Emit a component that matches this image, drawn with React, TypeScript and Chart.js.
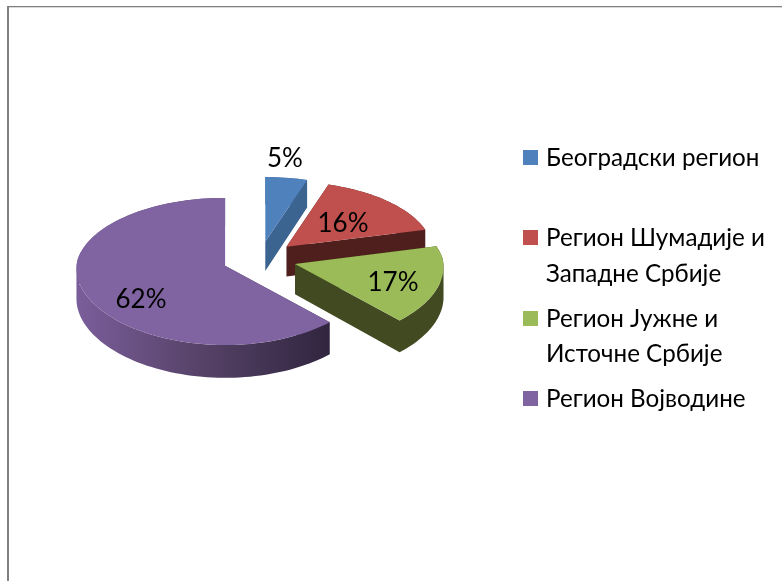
import React, { useEffect, useRef } from "react";
import { Chart, registerables } from "chart.js";

Chart.register(...registerables);

const categories = [
  "Београдски регион",
  "Регион Шумадије и Западне Србије",
  "Регион Јужне и Источне Србије",
  "Регион Војводине",
];
const values = [5, 16, 17, 62];
const legendLines = [
  ["Београдски регион", ""],
  ["Регион Шумадије и", "Западне Србије"],
  ["Регион Јужне и", "Источне Србије"],
  ["Регион Војводине"],
];
const topColors = ["#4F81BD", "#C0504D", "#9BBB59", "#8064A2"];
const wallColors = ["#3C6491", "#4E1F1D", "#414A20", "#332840"];
const labelAnchors = [
  [285, 159],
  [343, 224],
  [393, 283],
  [141, 300],
];

const FONT = "Lato, 'Open Sans', sans-serif";
const TILT = 0.487;
const PERSPECTIVE = 0.000526;
const DEPTH = 30;

const pie3d = {
  id: "pie3d",
  beforeDatasetsDraw(chart: any) {
    const { ctx } = chart;
    const arcs = chart.getDatasetMeta(0).data;
    arcs.forEach((arc: any, i: number) => {
      const off = (arc.options.offset || 0) / 4;
      const mid = (arc.startAngle + arc.endAngle) / 2;
      const ox = Math.cos(mid) * off;
      const oy = -Math.sin(mid) * off;
      const project = (u: number, v: number, h: number) => {
        const s = 1 / (1 + PERSPECTIVE * v);
        const sx = v < 0 ? 1 / (1 + 0.5 * PERSPECTIVE * v) : s;
        return [arc.x + ox + (u - ox) * sx, arc.y - v * TILT * s + h * s];
      };
      const N = Math.max(8, Math.ceil(((arc.endAngle - arc.startAngle) / Math.PI) * 90));
      const rim: number[][] = [];
      for (let k = 0; k <= N; k++) {
        const a = arc.startAngle + ((arc.endAngle - arc.startAngle) * k) / N;
        rim.push([ox + Math.cos(a) * arc.outerRadius, oy - Math.sin(a) * arc.outerRadius]);
      }
      const trace = (pts: number[][]) => {
        let area = 0;
        pts.forEach((p, n) => {
          const q = pts[(n + 1) % pts.length];
          area += p[0] * q[1] - q[0] * p[1];
        });
        const ordered = area < 0 ? pts.slice().reverse() : pts;
        ordered.forEach((p, n) => (n ? ctx.lineTo(p[0], p[1]) : ctx.moveTo(p[0], p[1])));
        ctx.closePath();
      };
      ctx.save();
      let wall: any = wallColors[i];
      if (i === 3) {
        const g = ctx.createLinearGradient(75, 0, 330, 0);
        g.addColorStop(0, "#7A5E9B");
        g.addColorStop(0.5, "#564267");
        g.addColorStop(1, "#30253F");
        wall = g;
      }
      // cut faces and outer wall as one same-wound path, filled once so no seams show
      ctx.beginPath();
      [rim[0], rim[N]].forEach((end) => {
        trace([
          project(ox, oy, 0),
          project(end[0], end[1], 0),
          project(end[0], end[1], DEPTH),
          project(ox, oy, DEPTH),
        ]);
      });
      for (let k = 0; k < N; k++) {
        trace([
          project(rim[k][0], rim[k][1], 0),
          project(rim[k + 1][0], rim[k + 1][1], 0),
          project(rim[k + 1][0], rim[k + 1][1], DEPTH),
          project(rim[k][0], rim[k][1], DEPTH),
        ]);
      }
      ctx.fillStyle = wall;
      ctx.fill("nonzero");
      // the top face
      ctx.beginPath();
      trace([project(ox, oy, 0), ...rim.map((p) => project(p[0], p[1], 0))]);
      ctx.fillStyle = topColors[i];
      ctx.fill();
      ctx.restore();
    });
    return false;
  },
  afterDraw(chart: any) {
    const { ctx } = chart;
    ctx.save();
    // percentage labels
    ctx.fillStyle = "#000";
    ctx.font = `26px ${FONT}`;
    ctx.textAlign = "center";
    ctx.textBaseline = "middle";
    const total = values.reduce((a, b) => a + b, 0);
    values.forEach((v, i) => {
      ctx.fillText(`${Math.round((v / total) * 100)}%`, labelAnchors[i][0], labelAnchors[i][1]);
    });
    // legend
    ctx.textAlign = "left";
    ctx.textBaseline = "alphabetic";
    ctx.font = `24.2px ${FONT}`;
    let y = 166;
    legendLines.forEach((lines, i) => {
      ctx.fillStyle = topColors[i];
      ctx.fillRect(523, Math.round(y - 16), 15, 15);
      ctx.fillStyle = "#000";
      lines.forEach((line) => {
        if (line) ctx.fillText(line, 546, y);
        y += 35.5;
      });
      y += 9.3;
    });
    ctx.restore();
  },
};

const frame = {
  id: "frame",
  beforeDraw(chart: any) {
    const { ctx, width, height } = chart;
    ctx.save();
    ctx.fillStyle = "#fff";
    ctx.fillRect(0, 0, width, height);
    ctx.fillStyle = "#808080";
    ctx.fillRect(7, 6, 2, height - 6);
    ctx.fillRect(7, 6, width - 7, 1.3);
    ctx.restore();
  },
};

export default function App() {
  const ref = useRef<HTMLCanvasElement | null>(null);
  useEffect(() => {
    const chart = new Chart(ref.current as HTMLCanvasElement, {
      type: "pie",
      data: {
        labels: categories,
        datasets: [
          {
            data: values,
            backgroundColor: topColors,
            borderWidth: 0,
            offset: 148,
            radius: 148,
          } as any,
        ],
      },
      options: {
        responsive: false,
        animation: false,
        layout: { padding: { left: 8, right: 271, top: 9, bottom: 72 } },
        plugins: { legend: { display: false }, tooltip: { enabled: false } },
      },
      plugins: [frame, pie3d as any],
    });
    return () => chart.destroy();
  }, []);
  return (
    <div style={{ position: "fixed", left: 0, top: 0, width: 782, height: 581 }}>
      <canvas ref={ref} width={782} height={581} style={{ display: "block" }} />
    </div>
  );
}
